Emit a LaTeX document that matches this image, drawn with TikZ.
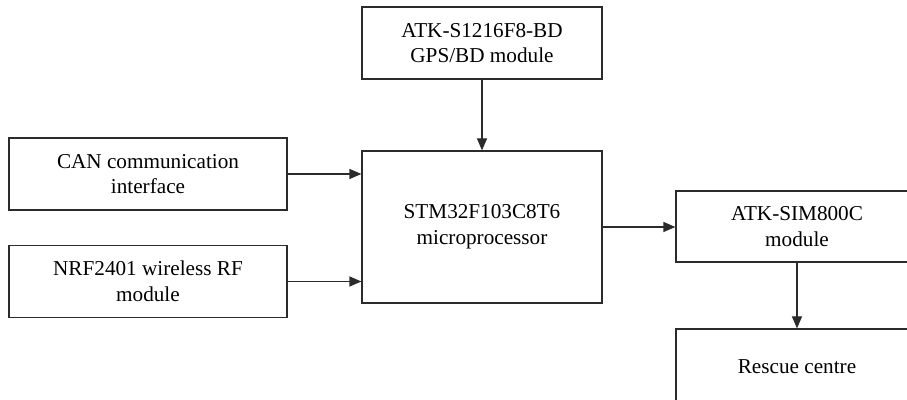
\documentclass[tikz,border=0pt]{standalone}
\usepackage{fontspec}
\setmainfont{Liberation Serif}
\usepackage{xcolor}
\usepackage{tikz}
\usetikzlibrary{positioning,arrows.meta}
\definecolor{ink}{HTML}{2B2B2B}
\newcommand{\boxfont}{\fontsize{10.6}{12.9}\selectfont}
\tikzset{
  block/.style = {rectangle, draw=ink, fill=white, line width=0.6pt, align=center,
                  minimum width=120pt, minimum height=36pt, inner sep=2pt, font=\boxfont},
  link/.style  = {-{Triangle[length=6pt, width=5pt]}, line width=0.6pt, draw=ink},
}
\begin{document}
\begin{tikzpicture}[x=0.5pt, y=-0.5pt]
  \useasboundingbox (0,0) rectangle (907,400);
  \clip (0,0) rectangle (907,400);

  % blocks, image coordinates (y down)
  \node[block] (gps) at (482,43) {ATK-S1216F8-BD\\GPS/BD module};
  \node[block, minimum height=76pt] (mcu) at (482,227) {STM32F103C8T6\\microprocessor};
  \node[block, minimum width=139pt] (can) at (148,174) {CAN communication\\interface};
  \node[block, minimum width=139pt] (nrf) at (148,281.5) {NRF2401 wireless RF\\module};
  \node[block, minimum width=121pt, minimum height=35.5pt] (sim) at (797,226.5) {ATK-SIM800C\\module};
  \node[block, minimum width=121pt, minimum height=38pt] (rescue) at (797,367) {Rescue centre};

  % signal flow
  \draw[link] (gps.south) -- (mcu.north);
  \draw[link] (can.east) -- (can.east -| mcu.west);
  \draw[link] (nrf.east) -- (nrf.east -| mcu.west);
  \draw[link] (mcu.east) -- (mcu.east -| sim.west);
  \draw[link] (sim.south) -- (rescue.north);
\end{tikzpicture}
\end{document}
